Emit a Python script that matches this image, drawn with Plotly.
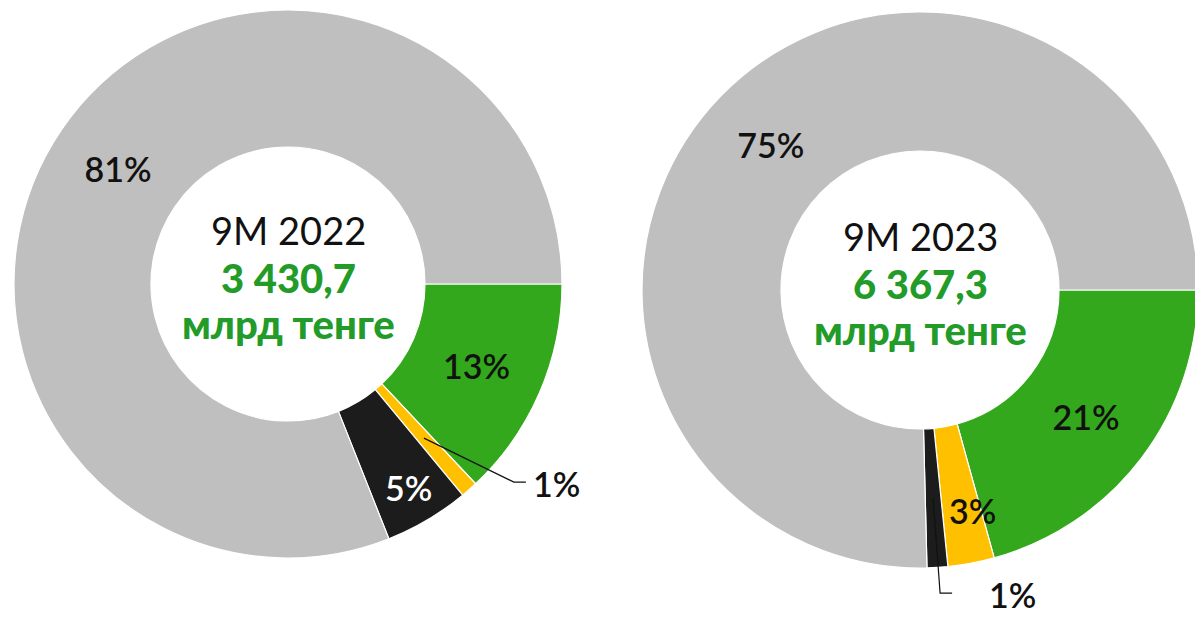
import math
import plotly.graph_objects as go

# ---- data ----
segments = ["Green", "Yellow", "Black", "Gray"]
values_2022 = [13.0, 1.0, 5.0, 81.0]
values_2023 = [20.7, 2.7, 1.2, 75.4]
period_labels = ["9M 2022", "9M 2023"]
totals = ["3 430,7", "6 367,3"]
unit = "млрд тенге"

colors = ["#34a81c", "#ffc000", "#1c1c1c", "#bfbfbf"]
label_colors = ["#111111", "#111111", "#ffffff", "#111111"]
GREEN_TXT = "#229b29"

OFF = 8            # page body margin
FW, FH = 1195, 612  # figure size
HOLE = 0.5
# pie geometry (screen pixels): centre x, centre y (from top), outer radius
geo = [(288, 284, 274), (920, 290, 278)]
FONT = "Lato"
PCT_SIZE = 34
PCT_WEIGHT = 600

fig = go.Figure()


def px2paper(x, y):
    return (x - OFF) / FW, 1 - (y - OFF) / FH


def domain(cx, cy, R):
    x0, y1 = px2paper(cx - R, cy - R)
    x1, y0 = px2paper(cx + R, cy + R)
    return dict(x=[max(0, x0), min(1, x1)], y=[max(0, y0), min(1, y1)])


def slice_mid(values, i, cx, cy, R):
    tot = sum(values)
    frac = (sum(values[:i]) + values[i] / 2) / tot
    ang = math.radians(frac * 360)
    r = R * (1 + HOLE) / 2
    return cx + r * math.cos(ang), cy + r * math.sin(ang)


def pct(values, i):
    return f"{round(values[i] / sum(values) * 100)}%"


small = [[1], [1, 2]]  # slices labelled by annotations

for k, vals in enumerate([values_2022, values_2023]):
    cx, cy, R = geo[k]
    tmpl = ["" if i in small[k] else "%{percent:.0%}" for i in range(len(vals))]
    fig.add_trace(go.Pie(
        labels=segments, values=vals, hole=HOLE, sort=False,
        direction="clockwise", rotation=90,
        domain=domain(cx, cy, R),
        marker=dict(colors=colors, line=dict(color="white", width=1.2)),
        texttemplate=tmpl, textposition="inside",
        insidetextorientation="horizontal",
        insidetextfont=dict(family=FONT, size=PCT_SIZE, color=label_colors,
                            weight=PCT_WEIGHT),
        showlegend=False, hoverinfo="label+percent",
    ))
    # centre text
    for dy, txt, col, size, wt in [(-54, period_labels[k], "#111111", 38, "normal"),
                                   (-6, totals[k], GREEN_TXT, 40, 900),
                                   (40, unit, GREEN_TXT, 40, 900)]:
        x, y = px2paper(cx, cy + dy)
        fig.add_annotation(x=x, y=y, xref="paper", yref="paper", text=txt,
                           showarrow=False, xanchor="center", yanchor="middle",
                           font=dict(family=FONT, size=size, color=col, weight=wt))

# ---- small labels ----
# 2022: 1% with leader line
cx, cy, R = geo[0]
sx, sy = slice_mid(values_2022, 1, cx, cy, R)
ex, ey = sx + 90, sy + 44
hx = ex + 12
pts = [px2paper(sx, sy), px2paper(ex, ey), px2paper(hx, ey)]
fig.add_shape(type="path", xref="paper", yref="paper",
              path="M {} {} L {} {} L {} {}".format(*[c for p in pts for c in p]),
              line=dict(color="#111111", width=1.2))
x, y = px2paper(hx + 5, ey + 1)
fig.add_annotation(x=x, y=y, xref="paper", yref="paper", text=pct(values_2022, 1),
                   showarrow=False, xanchor="left", yanchor="middle",
                   font=dict(family=FONT, size=PCT_SIZE, color="#111111", weight=PCT_WEIGHT))

# 2023: 3% over yellow slice
cx, cy, R = geo[1]
sx, sy = slice_mid(values_2023, 1, cx, cy, R)
x, y = px2paper(sx + 14, sy + 16)
fig.add_annotation(x=x, y=y, xref="paper", yref="paper", text=pct(values_2023, 1),
                   showarrow=False, xanchor="center", yanchor="middle",
                   font=dict(family=FONT, size=PCT_SIZE, color="#111111", weight=PCT_WEIGHT))

# 2023: 1% with leader line
sx, sy = slice_mid(values_2023, 2, cx, cy, R)
ex, ey = sx + 7, sy + 95
hx = ex + 12
pts = [px2paper(sx, sy), px2paper(ex, ey), px2paper(hx, ey)]
fig.add_shape(type="path", xref="paper", yref="paper",
              path="M {} {} L {} {} L {} {}".format(*[c for p in pts for c in p]),
              line=dict(color="#111111", width=1.2))
x, y = px2paper(hx + 35, ey + 1)
fig.add_annotation(x=x, y=y, xref="paper", yref="paper", text=pct(values_2023, 2),
                   showarrow=False, xanchor="left", yanchor="middle",
                   font=dict(family=FONT, size=PCT_SIZE, color="#111111", weight=PCT_WEIGHT))

fig.update_layout(width=FW, height=FH, margin=dict(l=0, r=0, t=0, b=0),
                  paper_bgcolor="white", plot_bgcolor="white",
                  font=dict(family=FONT))
fig.write_html("out.html")
